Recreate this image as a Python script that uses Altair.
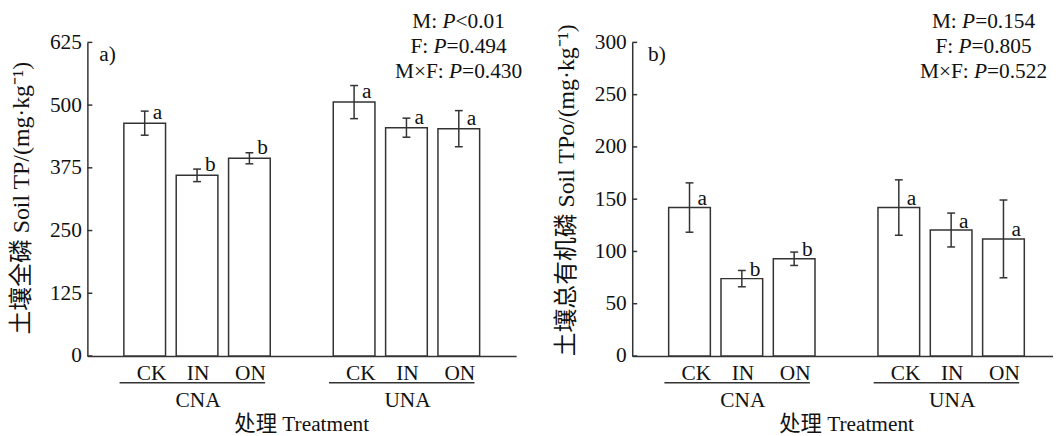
import altair as alt
import pandas as pd

# ---------------- data ----------------
treatments = ["CK", "IN", "ON", "CK", "IN", "ON"]
groups = ["CNA", "CNA", "CNA", "UNA", "UNA", "UNA"]
slots = [1, 2, 3, 5, 6, 7]

tp_mean = [464, 360, 394, 506, 455, 453]
tp_err = [24, 12.5, 11, 33, 19, 36]
tp_sig = ["a", "b", "b", "a", "a", "a"]

tpo_mean = [142, 74, 93, 142, 120.5, 112]
tpo_err = [23.6, 7.8, 6.4, 26.5, 16.2, 37.2]
tpo_sig = ["a", "b", "b", "a", "a", "a"]

tp_ticks = [0, 125, 250, 375, 500, 625]
tpo_ticks = [0, 50, 100, 150, 200, 250, 300]

group_names = ["CNA", "UNA"]
group_first = [1, 5]
group_last = [3, 7]

tp_stats = [("M:", "<0.01"), ("F:", "=0.494"), ("M×F:", "=0.430")]
tpo_stats = [("M:", "=0.154"), ("F:", "=0.805"), ("M×F:", "=0.522")]

# ---------------- style ----------------
FONT = "Liberation Serif, Times New Roman, Noto Sans CJK SC, serif"
FS = 21.5
FS_YT = 24
LINE = "#333333"
TXT = "#111111"
PLOT_H = 316

CW = {"M": .889, ":": .278, " ": .25, "P": .611, "<": .564, "=": .564,
      ".": .25, "F": .556, "×": .564}


def tw(s):
    return sum(CW.get(c, .5) for c in s) * FS


def text_at(txt, px, py, align="left", italic=False, angle=0, baseline="alphabetic", size=FS):
    kw = dict(font=FONT, fontSize=size, color=TXT, align=align, baseline=baseline)
    if italic:
        kw["fontStyle"] = "italic"
    if angle:
        kw["angle"] = angle
    return alt.Chart(pd.DataFrame({"t": [txt]})).mark_text(**kw).encode(
        text="t:N", x=alt.value(px), y=alt.value(py))


def panel(mean, err, sig, ticks, ymax, ytitle, ytitle_y, tag, tag_x, stats, stats_cx,
          width, xmax, letter_dy, marker=False):
    df = pd.DataFrame({"slot": slots, "trt": treatments, "group": groups,
                       "val": mean, "err": err, "sig": sig})
    xs = alt.Scale(domain=[0, xmax], nice=False, zero=False)
    ys = alt.Scale(domain=[0, ymax], nice=False)
    xaxis = alt.Axis(labels=False, ticks=False, title=None, grid=False, domain=True,
                     domainColor=LINE, domainWidth=1.5)
    yaxis = alt.Axis(values=ticks, title=None, grid=False, ticks=False, tickSize=0,
                     labelPadding=6, labelFont=FONT, labelFontSize=FS, labelColor=TXT,
                     domainColor=LINE, domainWidth=1.5, format="d")

    base = alt.Chart(df).transform_calculate(
        lo="datum.val - datum.err", hi="datum.val + datum.err",
        cl="datum.slot - 0.075", cr="datum.slot + 0.075",
        lx="datum.slot + (datum.trt == 'CK' ? 0.13 : 0.02)")

    X = alt.X("slot:Q", scale=xs, axis=xaxis)

    bars = base.mark_bar(size=42, fill="white", stroke=LINE, strokeWidth=1.5,
                         orient="vertical").encode(
        x=X, y=alt.Y("val:Q", scale=ys, axis=yaxis))
    err_v = base.mark_rule(color=LINE, strokeWidth=1.5).encode(
        x=X, y=alt.Y("lo:Q", scale=ys, axis=yaxis), y2="hi:Q")
    cap_hi = base.mark_rule(color=LINE, strokeWidth=1.5).encode(
        x=alt.X("cl:Q", scale=xs, axis=xaxis), x2="cr:Q",
        y=alt.Y("hi:Q", scale=ys, axis=yaxis))
    cap_lo = base.mark_rule(color=LINE, strokeWidth=1.5).encode(
        x=alt.X("cl:Q", scale=xs, axis=xaxis), x2="cr:Q",
        y=alt.Y("lo:Q", scale=ys, axis=yaxis))
    letters = base.mark_text(font=FONT, fontSize=FS, color=TXT, align="left",
                             baseline="alphabetic", dx=8, dy=letter_dy).encode(
        x=X, y=alt.Y("val:Q", scale=ys, axis=yaxis), text="sig:N")
    trt_lab = base.mark_text(font=FONT, fontSize=FS, color=TXT, align="center",
                             baseline="alphabetic").encode(
        x=alt.X("lx:Q", scale=xs, axis=xaxis), y=alt.value(PLOT_H + 24), text="trt:N")

    tdf = pd.DataFrame({"t": ticks})
    yticks = alt.Chart(tdf).mark_rule(color=LINE, strokeWidth=1.5).encode(
        y=alt.Y("t:Q", scale=ys, axis=yaxis), x=alt.value(0), x2=alt.value(5))

    gdf = pd.DataFrame({"g": group_names, "first": group_first, "last": group_last})
    gbase = alt.Chart(gdf).transform_calculate(
        s="datum.first - 0.48", e="datum.last + 0.3", m="(datum.first + datum.last) / 2 + 0.02")
    under = gbase.mark_rule(color=LINE, strokeWidth=1.5).encode(
        x=alt.X("s:Q", scale=xs, axis=xaxis), x2="e:Q", y=alt.value(PLOT_H + 27))
    glab = gbase.mark_text(font=FONT, fontSize=FS, color=TXT, align="center",
                           baseline="alphabetic").encode(
        x=alt.X("m:Q", scale=xs, axis=xaxis), y=alt.value(PLOT_H + 51), text="g:N")

    layers = [bars, err_v, cap_hi, cap_lo, letters, trt_lab, yticks, under, glab]

    layers.append(text_at("处理 Treatment", 216, PLOT_H + 76, align="center"))
    layers.append(text_at(ytitle, -66, ytitle_y, align="center", angle=270,
                          baseline="middle", size=FS_YT))
    layers.append(text_at(tag, tag_x, 19))

    sp = tw(" ")
    for i, (pre, suf) in enumerate(stats):
        total = tw(pre) + sp + tw("P") + tw(suf)
        px = stats_cx - total / 2 + tw(pre) + sp
        py = -14 + i * 24.7
        layers.append(text_at(pre, px - sp, py, align="right"))
        layers.append(text_at("P", px, py, italic=True))
        layers.append(text_at(suf, px + tw("P"), py))

    if marker:
        layers.append(alt.Chart(pd.DataFrame({"t": [0]})).mark_rule(
            color="white", strokeOpacity=0, strokeWidth=1).encode(
            x=alt.value(-80), x2=alt.value(-79), y=alt.value(-33)))

    return alt.layer(*layers).properties(width=width, height=PLOT_H)


left = panel(tp_mean, tp_err, tp_sig, tp_ticks, 625,
             "土壤全磷 Soil TP/(mg·kg⁻¹)", 157, "a)", 12, tp_stats, 374,
             432, 8.0, -4, marker=True)
right = panel(tpo_mean, tpo_err, tpo_sig, tpo_ticks, 300,
              "土壤总有机磷 Soil TPo/(mg·kg⁻¹)", 149, "b)", 16, tpo_stats, 354,
              424, 424 / 54.0, -2.5)

chart = alt.hconcat(left, right, spacing=117, bounds="flush").properties(
    padding=0, background="white"
).configure_view(stroke=None)

chart.save("out.html", embed_options={"renderer": "svg", "actions": False})
